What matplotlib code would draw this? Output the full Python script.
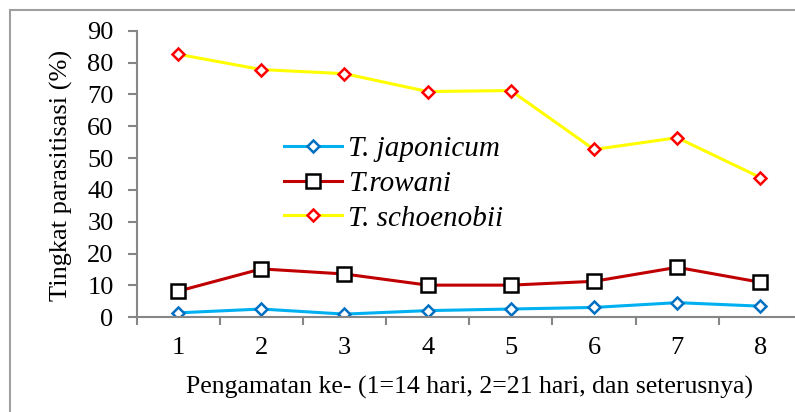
import matplotlib
matplotlib.use("Agg")
import matplotlib.pyplot as plt
from matplotlib.patches import Rectangle

categories = [1, 2, 3, 4, 5, 6, 7, 8]
japonicum = [1.4, 2.6, 1.0, 2.1, 2.6, 3.1, 4.6, 3.5]
rowani = [8.2, 15.2, 13.6, 10.1, 10.1, 11.3, 15.7, 11.0]
schoenobii = [82.6, 77.8, 76.5, 70.9, 71.2, 52.7, 56.4, 43.9]
yticks = [0, 10, 20, 30, 40, 50, 60, 70, 80, 90]

W, H = 795, 412
fig = plt.figure(figsize=(W / 100, H / 100), dpi=100)
plt.rcParams['font.family'] = ['Liberation Serif', 'DejaVu Serif']

# axes: x from 136.5 px to 802 px, y from 30.7 (90) to 317.3 (0)
left, right = 136.5, 802.0
top, bottom = 30.7, 317.3
ax = fig.add_axes([left / W, 1 - bottom / H, (right - left) / W, (bottom - top) / H])
ax.set_xlim(0.5, 8.5)
ax.set_ylim(0, 90)

ax.plot(categories, japonicum, color='#00B0F0', lw=2.2, marker='D', ms=5.8,
        mfc='white', mec='#0070C0', mew=1.8, label='T. japonicum')
ax.plot(categories, rowani, color='#C00000', lw=2.2, marker='s', ms=9.5,
        mfc='white', mec='black', mew=1.8, label='T.rowani')
ax.plot(categories, schoenobii, color='#FFFF00', lw=2.2, marker='D', ms=5.8,
        mfc='white', mec='#FF0000', mew=1.8, label='T. schoenobii')

for s in ['top', 'right']:
    ax.spines[s].set_visible(False)
for s in ['left', 'bottom']:
    ax.spines[s].set_color('#868686')
    ax.spines[s].set_linewidth(1.5)

ax.set_yticks(yticks)
ax.set_xticks(categories)
ax.set_xticks([0.5, 1.5, 2.5, 3.5, 4.5, 5.5, 6.5, 7.5], minor=True)
ax.tick_params(axis='y', direction='out', length=6.5, width=1.5, color='#868686',
               labelsize=19, pad=10)
ax.tick_params(axis='x', which='major', length=0, labelsize=19, pad=14)
ax.tick_params(axis='x', which='minor', direction='out', length=6, width=1.5,
               color='#868686')

fig.text(61 / W, 1 - 175 / H, 'Tingkat parasitisasi (%)', rotation=90,
         ha='center', va='center', fontsize=19)
fig.text(469 / W, 1 - 387 / H, 'Pengamatan ke- (1=14 hari, 2=21 hari, dan seterusnya)',
         ha='center', va='center', fontsize=18.5)

leg = ax.legend(loc='upper left',
                bbox_to_anchor=((284 - left) / (right - left), (bottom - 136) / (bottom - top)),
                frameon=False, prop={'style': 'italic', 'size': 21},
                handlelength=2.0, handletextpad=0.2, labelspacing=0.28,
                borderaxespad=0, borderpad=0)

fig.patches.append(Rectangle((10 / W, -0.1), 2, 1 - 10 / H + 0.1,
                             transform=fig.transFigure, fill=False,
                             edgecolor='#A0A0A0', lw=1.5))

fig.savefig('out.png', dpi=100)
